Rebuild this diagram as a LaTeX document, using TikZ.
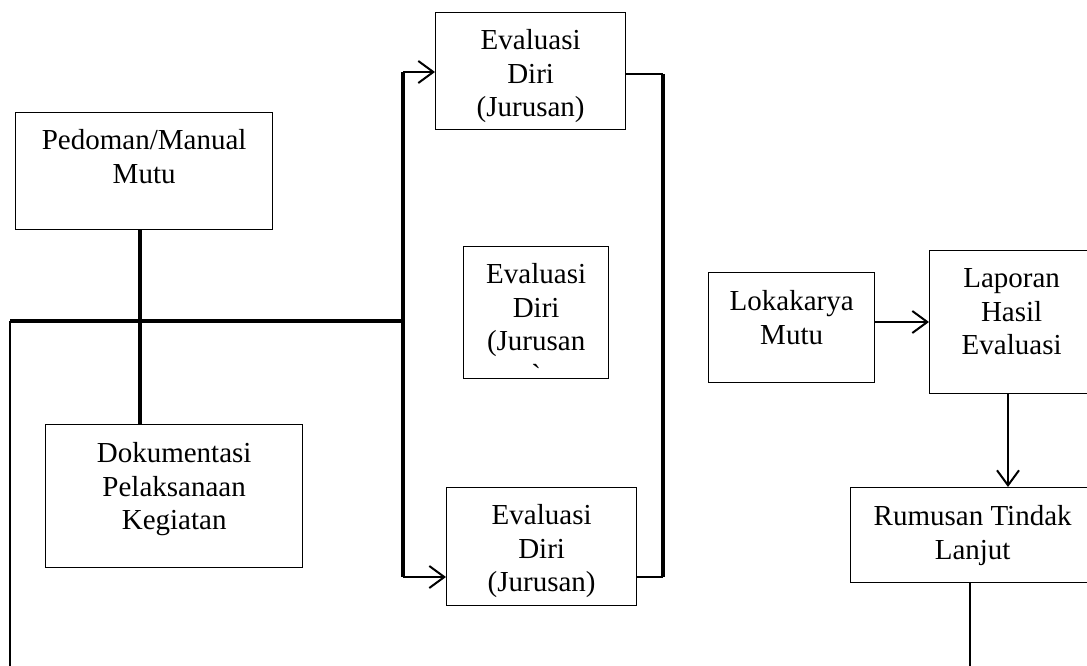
\documentclass[tikz,border=0pt]{standalone}
\usepackage{fontspec}
\setmainfont{Liberation Serif}
\usetikzlibrary{arrows.meta}

\begin{document}
\begin{tikzpicture}[x=1pt,y=-1pt,
        box/.style 2 args={draw=black, line width=1.3pt, align=center, inner sep=0pt,
                anchor=north west, text height=#1, text depth=#2,
                font=\fontsize{29}{33.5}\selectfont},
        wire/.style={draw=black, line width=2pt},
        bus/.style={draw=black, line width=4pt},
        >={Straight Barb[length=15pt,width=22pt]}]
        \clip (0,0) rectangle (1087,666);

        \node[box={70.5pt}{46.5pt}, minimum width=257pt] (ped) at (15,112) {Pedoman/Manual\\Mutu};
        \node[box={105pt}{38pt}, minimum width=257pt] (dok) at (45,424) {Dokumentasi\\Pelaksanaan\\Kegiatan};
        \node[box={104pt}{13pt}, minimum width=190pt] (evA) at (435,12) {Evaluasi\\Diri\\(Jurusan)};
        \node[box={132pt}{0pt}, minimum width=145pt] (evB) at (463,246) {Evaluasi\\Diri\\(Jurusan\\[-5.5pt]\raisebox{-6pt}{\textasciigrave}};
        \node[box={104pt}{14pt}, minimum width=190pt] (evC) at (446,487) {Evaluasi\\Diri\\(Jurusan)};
        \node[box={71.5pt}{38.5pt}, minimum width=166pt] (lok) at (708,272) {Lokakarya\\Mutu};
        \node[box={104pt}{39pt}, minimum width=164pt] (lap) at (929,250) {Laporan\\Hasil\\Evaluasi};
        \node[box={71.5pt}{23.5pt}, minimum width=244pt] (rum) at (850,487) {Rumusan Tindak\\Lanjut};

        \coordinate (jl) at (10,321);
        \coordinate (jx) at (140,321);
        \coordinate (jr) at (404,321);
        \coordinate (bt) at (403,72);
        \coordinate (bb) at (403,577);
        \coordinate (rt) at (663,74);
        \coordinate (rb) at (663,577);
        \coordinate (ly) at (800,322);
        \coordinate (lx) at (1008,400);
        \coordinate (endL) at (10,666);
        \coordinate (endR) at (970,666);

        \draw[bus] (jl) -- (jr);
        \draw[bus] (ped.south -| jx) -- (dok.north -| jx);
        \draw[bus] (bt) -- (bb);
        \draw[wire,->] (bt) -- (evA.west |- bt);
        \draw[wire,->] (bb) -- (evC.west |- bb);
        \draw[wire] (evA.east |- rt) -- (rt);
        \draw[bus] (rt) -- (rb);
        \draw[wire] (rb) -- (evC.east |- rb);
        \draw[wire] (jl) -- (endL);
        \draw[wire,->] (lok.east |- ly) -- (lap.west |- ly);
        \draw[wire,->] (lap.south -| lx) -- (rum.north -| lx);
        \draw[wire] (rum.south -| endR) -- (endR);

\end{tikzpicture}
\end{document}
